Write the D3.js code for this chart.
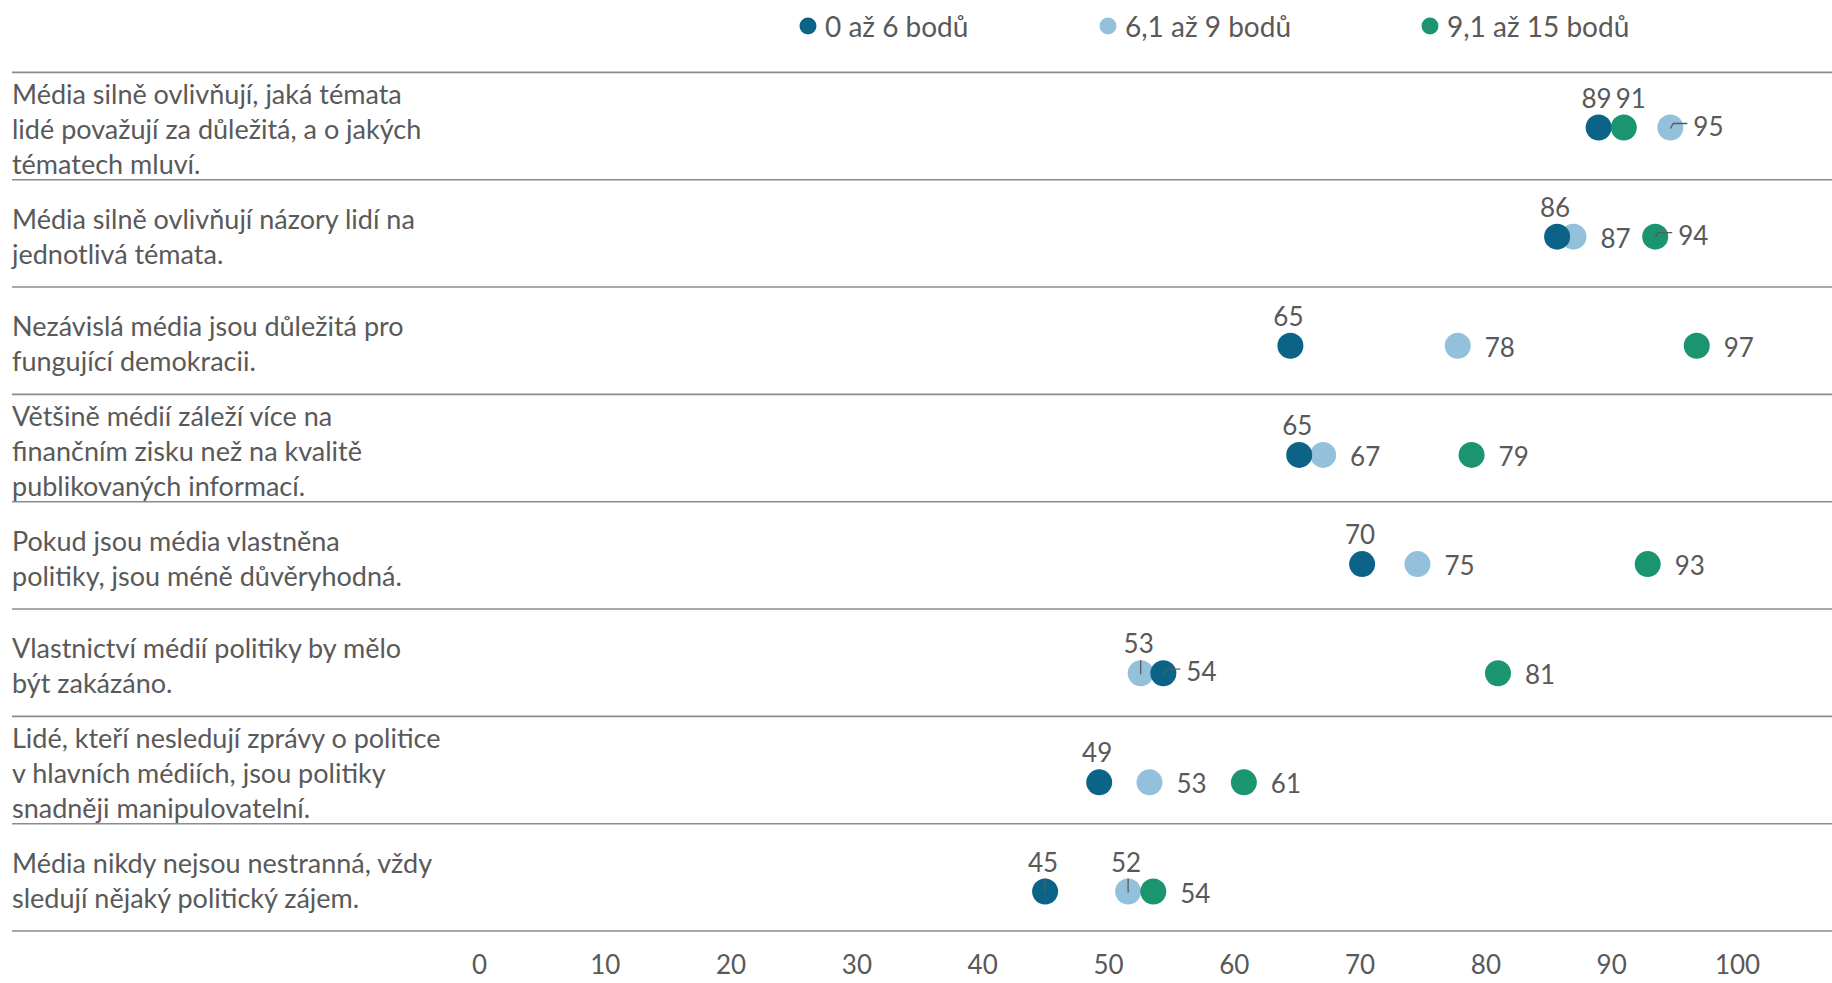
<!DOCTYPE html>
<html><head><meta charset="utf-8">
<script src="https://cdn.jsdelivr.net/npm/d3@7"></script>
<style>
html,body{margin:0;padding:0;background:#fff;}
svg{display:block;font-family:Lato,"Noto Sans",sans-serif;}
</style></head>
<body><svg id="c" width="1832" height="983"></svg>
<script>
const categories = [
  ["Média silně ovlivňují, jaká témata","lidé považují za důležitá, a o jakých","tématech mluví."],
  ["Média silně ovlivňují názory lidí na","jednotlivá témata."],
  ["Nezávislá média jsou důležitá pro","fungující demokracii."],
  ["Většině médií záleží více na","finančním zisku než na kvalitě","publikovaných informací."],
  ["Pokud jsou média vlastněna","politiky, jsou méně důvěryhodná."],
  ["Vlastnictví médií politiky by mělo","být zakázáno."],
  ["Lidé, kteří nesledují zprávy o politice","v hlavních médiích, jsou politiky","snadněji manipulovatelní."],
  ["Média nikdy nejsou nestranná, vždy","sledují nějaký politický zájem."]
];
const seriesNames = ["0 až 6 bodů","6,1 až 9 bodů","9,1 až 15 bodů"];
const low  = [89, 85.7, 64.5, 65.2, 70.2, 54.4, 49.3, 45];
const mid  = [94.7, 87, 77.8, 67.1, 74.6, 52.6, 53.3, 51.6];
const high = [91, 93.5, 96.8, 78.9, 92.9, 81, 60.8, 53.6];
// label placement per series per row: "a" = above, "ar" = above nudged right, "r" = right, "rl" = right with leader, "al" = above with leader
const lowPos  = ["a","a","a","a","a","rl","a","al"];
const midPos  = ["rl","r","r","r","r","al","r","al"];
const highPos = ["ar","rl","r","r","r","r","r","r"];
const ticks = [0,10,20,30,40,50,60,70,80,90,100];
const colors = ["#0b6488","#93c0db","#1a9570"];

const svg = d3.select("#c");
const W = 1832;
const x = d3.scaleLinear().domain([0,100]).range([479,1737]);
const rowY = d3.scaleBand().domain(d3.range(categories.length)).range([72.4, 931]);
const dotY = d3.scalePoint().domain(d3.range(categories.length)).range([127.5, 891.5]);
const textColor = "#595959";

// row separator lines
const lines = d3.range(categories.length+1);
const lineY = i=>i<categories.length?rowY(i):rowY(categories.length-1)+rowY.bandwidth();
svg.append("g").selectAll("line").data(lines).join("line")
  .attr("x1",12).attr("x2",W)
  .attr("y1",lineY).attr("y2",lineY)
  .attr("stroke","#8c8c8c").attr("stroke-width",1.6);

// category labels
const lh = 35;
const cg = svg.append("g");
categories.forEach((lns,i)=>{
  const cy = rowY(i)+rowY.bandwidth()/2 + 2;
  const t = cg.append("text").attr("fill",textColor).attr("font-size",27)
    .attr("dominant-baseline","central");
  lns.forEach((l,k)=>{
    t.append("tspan").attr("x",12).attr("y",cy+(k-(lns.length-1)/2)*lh).text(l);
  });
});

// axis
const axis = d3.axisBottom(x).tickValues(ticks).tickSize(0).tickPadding(0);
const ag = svg.append("g").attr("transform","translate(0,956)").call(axis);
ag.select(".domain").remove();
ag.selectAll("text").attr("font-size",26).attr("fill",textColor)
  .attr("font-family","Lato,'Noto Sans',sans-serif").attr("dy","0.7em");

// points
const series = [low, mid, high];
const poses = [lowPos, midPos, highPos];
const drawOrder = [1,0,2];
const pg = svg.append("g");
drawOrder.forEach(s=>{
  pg.append("g").selectAll("circle").data(series[s]).join("circle")
    .attr("cx",d=>x(d)).attr("cy",(d,i)=>dotY(i)).attr("r",13)
    .attr("fill",colors[s]);
});
// leader lines
const ldg = svg.append("g").attr("fill","none").attr("stroke","#595959").attr("stroke-width",1.3);
series.forEach((vals,s)=>{
  vals.forEach((d,i)=>{
    const p = poses[s][i], cx = x(d), cy = dotY(i);
    if(p==="rl") ldg.append("path").attr("d",`M${cx},${cy+1}L${cx+3},${cy-4}L${cx+17},${cy-4}`);
    if(p==="al") ldg.append("path").attr("d",`M${cx},${cy+1}L${cx},${cy-13}`);
  });
});
const lg = svg.append("g");
series.forEach((vals,s)=>{
  lg.append("g").selectAll("text").data(vals).join("text")
    .attr("x",(d,i)=>{const p=poses[s][i];
      if(p==="a"||p==="al") return x(d)-2;
      if(p==="ar") return x(d)+7;
      if(p==="rl") return x(d)+23;
      return x(d)+27;})
    .attr("y",(d,i)=>{const p=poses[s][i];
      if(p[0]==="a") return dotY(i)-30;
      if(p==="rl") return dotY(i)-2;
      return dotY(i)+1;})
    .attr("text-anchor",(d,i)=>poses[s][i][0]==="a"?"middle":"start")
    .attr("dominant-baseline","central")
    .attr("font-size",26).attr("fill",textColor)
    .text(d=>Math.round(d));
});

// legend
const legX = [808,1108,1430];
const leg = svg.append("g");
seriesNames.forEach((n,i)=>{
  leg.append("circle").attr("cx",legX[i]).attr("cy",26).attr("r",8.5).attr("fill",colors[i]);
  leg.append("text").attr("x",legX[i]+17).attr("y",26).attr("dominant-baseline","central")
    .attr("font-size",28).attr("fill",textColor).text(n);
});
</script></body></html>
